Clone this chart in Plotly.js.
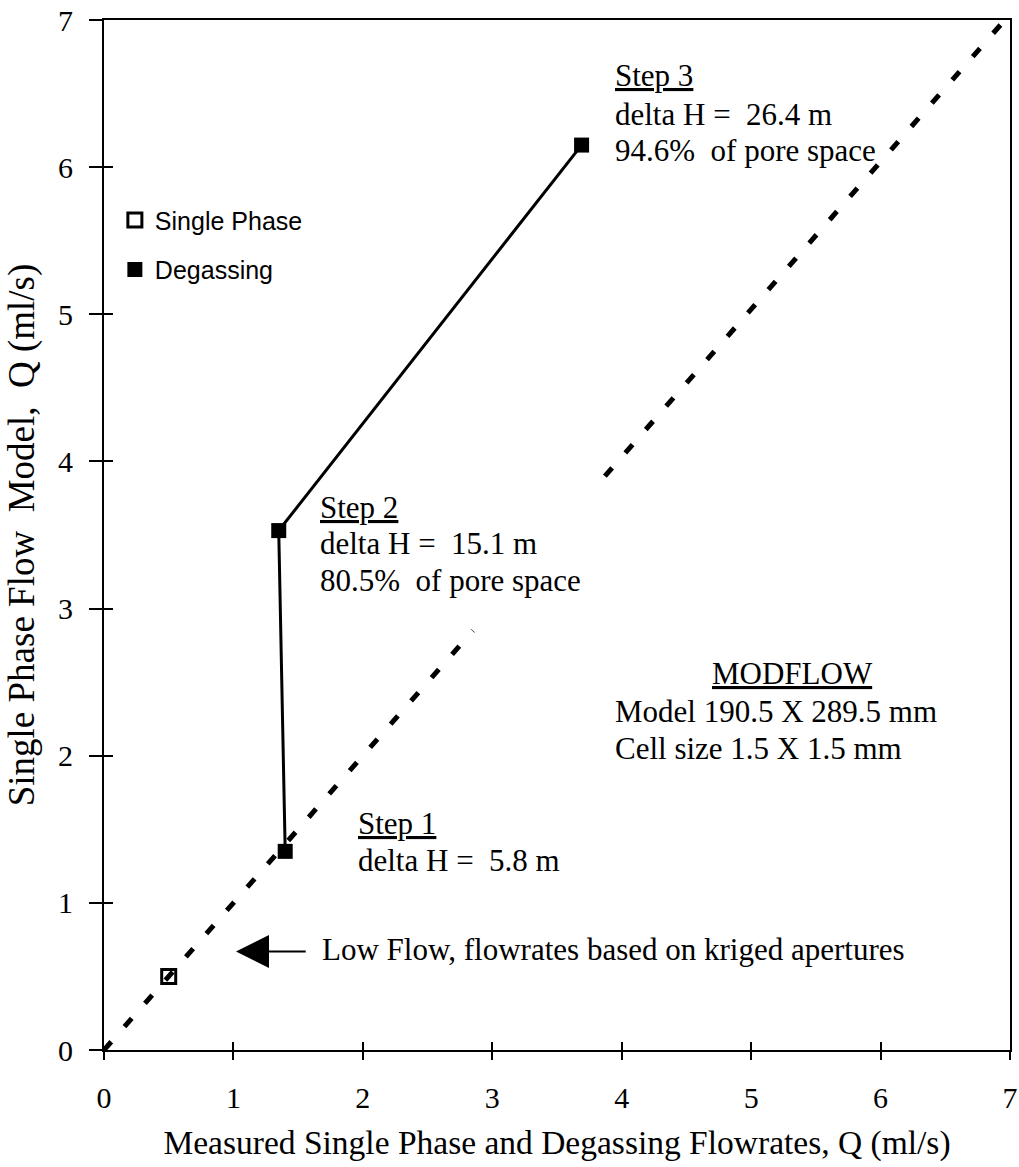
<!DOCTYPE html>
<html>
<head>
<meta charset="utf-8">
<script src="https://cdn.plot.ly/plotly-3.0.1.min.js"></script>
<style>html,body{margin:0;padding:0;background:#fff;}#chart{width:1019px;height:1167px;}</style>
</head>
<body>
<div id="chart"></div>
<script>
// ---- data ----
const singleX = [0.5];
const singleY = [0.5];
const degasX = [1.4, 1.35, 3.69];
const degasY = [1.35, 3.53, 6.15];
const stepNames = ["Step 1", "Step 2", "Step 3"];
const deltaH = [5.8, 15.1, 26.4];
const poreSpace = [null, 80.5, 94.6];
// 1:1 reference line (broken where the label sits)
const oneX = [0, 2.85, null, 3.87, 6.93];
const oneY = [0, 2.85, null, 3.9, 6.97];
const tickVals = [0, 1, 2, 3, 4, 5, 6, 7];

const SERIF = "Liberation Serif, Times New Roman, serif";
const SANS = "Liberation Sans, Arial, sans-serif";

const traces = [
  {x: oneX, y: oneY, mode: "lines", line: {color: "#000", width: 5, dash: "11px,20px"},
   showlegend: false, hoverinfo: "skip", connectgaps: false},
  {x: degasX, y: degasY, mode: "lines", line: {color: "#000", width: 3},
   showlegend: false, hoverinfo: "skip"},
  {x: singleX, y: singleY, mode: "markers", name: "Single Phase", legendgroup: "a",
   marker: {symbol: "square-open", size: 14, color: "#000", line: {width: 3, color: "#000"}}},
  {x: degasX, y: degasY, mode: "markers", name: "Degassing", legendgroup: "b",
   marker: {symbol: "square", size: 15, color: "#000"}},
  // invisible overlay trace to host the inner half of the crossing ticks
  {x: [0], y: [0], xaxis: "x2", yaxis: "y2", mode: "markers", marker: {opacity: 0}, showlegend: false, hoverinfo: "skip"}
];

function ann(x, y, text, opts) {
  return Object.assign({x: x, y: y, xref: "x", yref: "y", text: text, showarrow: false,
    xanchor: "left", yanchor: "middle", font: {family: SERIF, size: 31, color: "#000"}}, opts || {});
}

const annotations = [
  ann(3.93, 6.62, "<u>" + stepNames[2] + "</u>"),
  ann(3.93, 6.36, "delta H =  " + deltaH[2].toFixed(1) + " m"),
  ann(3.93, 6.11, poreSpace[2].toFixed(1) + "%  of pore space"),
  ann(1.65, 3.69, "<u>" + stepNames[1] + "</u>"),
  ann(1.65, 3.44, "delta H =  " + deltaH[1].toFixed(1) + " m"),
  ann(1.65, 3.19, poreSpace[1].toFixed(1) + "%  of pore space"),
  ann(1.95, 1.54, "<u>" + stepNames[0] + "</u>"),
  ann(1.95, 1.285, "delta H =  " + deltaH[0].toFixed(1) + " m"),
  ann(5.32, 2.56, "<u>MODFLOW</u>", {xanchor: "center"}),
  ann(3.93, 2.30, "Model 190.5 X 289.5 mm"),
  ann(3.93, 2.05, "Cell size 1.5 X 1.5 mm"),
  ann(1.67, 0.68, "Low Flow, flowrates based on kriged apertures"),
  {x: 1.02, y: 0.67, xref: "x", yref: "y", ax: 1.57, ay: 0.67, axref: "x", ayref: "y",
   text: "", showarrow: true, arrowhead: 2, arrowsize: 3.3, arrowwidth: 2, arrowcolor: "#000", standoff: 0}
];

const layout = {
  width: 1019, height: 1167,
  margin: {l: 104, r: 9, t: 20, b: 117, pad: 0},
  paper_bgcolor: "#fff", plot_bgcolor: "#fff",
  font: {family: SERIF, color: "#000"},
  showlegend: true,
  legend: {x: 0.012, y: 0.828, xanchor: "left", yanchor: "top", bgcolor: "rgba(0,0,0,0)",
    font: {family: SANS, size: 25, color: "#000"}, tracegroupgap: 14, itemwidth: 30},
  xaxis: {range: [0, 7], tickvals: tickVals, ticks: "outside", ticklen: 8, tickwidth: 2, tickcolor: "#000",
    showline: true, linewidth: 2, linecolor: "#000", mirror: true, showgrid: false, zeroline: false,
    tickfont: {family: SERIF, size: 30, color: "#000"}, ticklabelstandoff: 12,
    title: {text: "Measured Single Phase and Degassing Flowrates, Q (ml/s)", font: {family: SERIF, size: 33.5, color: "#000"}, standoff: 18}},
  yaxis: {range: [0, 7], tickvals: tickVals, ticks: "outside", ticklen: 13, tickwidth: 2, tickcolor: "#000",
    showline: true, linewidth: 2, linecolor: "#000", mirror: true, showgrid: false, zeroline: false,
    tickfont: {family: SERIF, size: 30, color: "#000"}, ticklabelstandoff: 10,
    title: {text: "Single Phase Flow  Model,  Q (ml/s)", font: {family: SERIF, size: 37, color: "#000"}, standoff: 12}},
  xaxis2: {range: [0, 7], tickvals: tickVals, overlaying: "x", side: "bottom", ticks: "inside", ticklen: 8, tickwidth: 2,
    tickcolor: "#000", showticklabels: false, showline: false, showgrid: false, zeroline: false},
  yaxis2: {range: [0, 7], tickvals: tickVals, overlaying: "y", side: "left", ticks: "inside", ticklen: 9, tickwidth: 2,
    tickcolor: "#000", showticklabels: false, showline: false, showgrid: false, zeroline: false},
  annotations: annotations
};

Plotly.newPlot("chart", traces, layout, {displayModeBar: false, staticPlot: true});
</script>
</body>
</html>
